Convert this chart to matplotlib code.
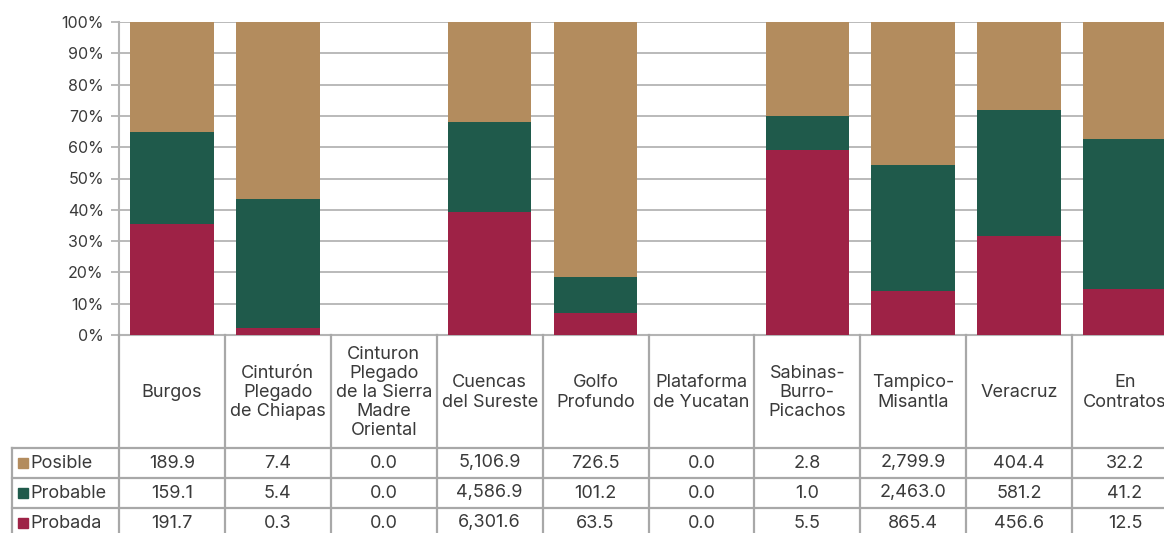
import matplotlib.pyplot as plt
import numpy as np

categories = ["Burgos", "Cinturón\nPlegado\nde Chiapas", "Cinturon\nPlegado\nde la Sierra\nMadre\nOriental",
              "Cuencas\ndel Sureste", "Golfo\nProfundo", "Plataforma\nde Yucatan", "Sabinas-\nBurro-\nPicachos",
              "Tampico-\nMisantla", "Veracruz", "En\nContratos"]
posible = [189.9, 7.4, 0.0, 5106.9, 726.5, 0.0, 2.8, 2799.9, 404.4, 32.2]
probable = [159.1, 5.4, 0.0, 4586.9, 101.2, 0.0, 1.0, 2463.0, 581.2, 41.2]
probada = [191.7, 0.3, 0.0, 6301.6, 63.5, 0.0, 5.5, 865.4, 456.6, 12.5]

c_pos = "#b38c5e"
c_prob = "#1f5a4b"
c_pda = "#9e2246"
grid_c = "#b4b4b4"
txt_c = "#3a3a3a"
plt.rcParams["font.family"] = ["Inter", "DejaVu Sans"]
fs = 13

W, H = 1164, 533
fig = plt.figure(figsize=(W / 100, H / 100), dpi=100)
left, right, top, zero = 119, 1178, 22, 335
ax = fig.add_axes([left / W, (H - zero) / H, (right - left) / W, (zero - top) / H])

pos = np.array(posible)
prb = np.array(probable)
pda = np.array(probada)
tot = pos + prb + pda
safe = np.where(tot == 0, 1, tot)
p_pda = np.where(tot == 0, 0, pda / safe * 100)
p_prb = np.where(tot == 0, 0, prb / safe * 100)
p_pos = np.where(tot == 0, 0, pos / safe * 100)

x = np.arange(len(categories))
bw = 0.79
ax.bar(x, p_pda, bw, color=c_pda, zorder=3)
ax.bar(x, p_prb, bw, bottom=p_pda, color=c_prob, zorder=3)
ax.bar(x, p_pos, bw, bottom=p_pda + p_prb, color=c_pos, zorder=3)

ax.set_xlim(-0.5, len(categories) - 0.5)
ax.set_ylim(0, 100)
ax.set_yticks(range(0, 101, 10))
ax.set_yticklabels([f"{v}%" for v in range(0, 101, 10)], fontsize=11.5, color=txt_c)
ax.yaxis.grid(True, color=grid_c, lw=1.3, zorder=0)
ax.tick_params(axis="y", length=6, color=grid_c, width=1.3, pad=5)
ax.set_xticks([])
for s in ["top", "right"]:
    ax.spines[s].set_visible(False)
for s in ["left", "bottom"]:
    ax.spines[s].set_color(grid_c)
    ax.spines[s].set_linewidth(1.5)

# table below
tb_bottom = 538
tab = fig.add_axes([left / W, (H - tb_bottom) / H, (right - left) / W, (tb_bottom - zero) / H])
tab.set_xlim(-0.5, len(categories) - 0.5)
tab.set_ylim(tb_bottom, zero)
tab.axis("off")
colw = (right - left) / len(categories)
lab_left = -0.5 - (left - 12) / colw
rows = [448, 478, 508, 538]
lc = "#a8a8a8"
for b in np.arange(-0.5, len(categories) + 0.5, 1):
    tab.plot([b, b], [zero, tb_bottom], color=lc, lw=1.6, clip_on=False)
tab.plot([lab_left, lab_left], [rows[0], tb_bottom], color=lc, lw=1.6, clip_on=False)
for r in rows[:3]:
    tab.plot([lab_left, len(categories) - 0.5], [r, r], color=lc, lw=1.6, clip_on=False)

for i, c in enumerate(categories):
    tab.text(i, (zero + rows[0]) / 2 + 1, c, ha="center", va="center", fontsize=fs,
             color=txt_c, linespacing=1.17)

series = [("Posible", posible, c_pos), ("Probable", probable, c_prob), ("Probada", probada, c_pda)]
for k, (name, vals, col) in enumerate(series):
    yc = (rows[k] + rows[k + 1]) / 2
    tab.plot([lab_left + 0.1], [yc], marker="s", ms=7, color=col, clip_on=False)
    tab.text(lab_left + 0.17, yc, name, ha="left", va="center", fontsize=fs, color=txt_c)
    for i, v in enumerate(vals):
        tab.text(i, yc, f"{v:,.1f}", ha="center", va="center", fontsize=fs, color=txt_c)

fig.savefig("out.png", dpi=100)
